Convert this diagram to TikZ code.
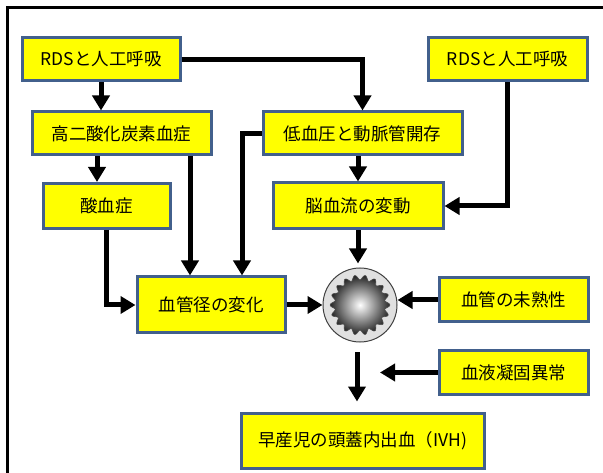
\documentclass[tikz,border=0pt]{standalone}
\usepackage{fontspec}
\setmainfont{Noto Sans CJK JP}
\usepackage{xcolor}
\usetikzlibrary{arrows.meta}

\definecolor{boxline}{RGB}{66,96,140}
\definecolor{boxfill}{RGB}{255,255,0}

\tikzset{
  box/.style={draw=boxline,fill=boxfill,line width=3pt,inner sep=0pt,
    minimum height=43pt,font=\fontsize{17.5}{20}\selectfont},
  link/.style={line width=5pt,-{Triangle[length=15pt,width=17pt]}},
}

\begin{document}
\begin{tikzpicture}[x=1pt,y=-1pt]
  \useasboundingbox (0,0) rectangle (603,473);
  % outer frame, only the left and top edges are inside the page
  \draw[line width=3pt] (7.5,490) -- (7.5,7.5) -- (620,7.5);

  \node[box,minimum width=158pt] (rdsa)  at (101,59.5)    {RDSと人工呼吸};
  \node[box,minimum width=159pt] (rdsb)  at (507.5,59.5)  {RDSと人工呼吸};
  \node[box,minimum width=179pt] (hyper) at (121.5,133.5) {高二酸化炭素血症};
  \node[box,minimum width=199pt] (lowbp) at (362.5,133.5) {低血圧と動脈管開存};
  \node[box,minimum width=127pt,minimum height=45pt] (acid) at (106.5,206) {酸血症};
  \node[box,minimum width=170pt,minimum height=46pt] (cbf)  at (358,206)   {脳血流の変動};
  \node[box,minimum width=148pt,minimum height=56pt] (diam) at (211,305)   {血管径の変化};
  \node[box,minimum width=149pt,minimum height=44pt] (immat) at (513.5,300) {血管の未熟性};
  \node[box,minimum width=149pt,minimum height=43pt] (clot)  at (513.5,372.5) {血液凝固異常};
  \node[box,minimum width=243pt,minimum height=55pt] (ivh)   at (362.5,440.5) {早産児の頭蓋内出血（IVH)};

  % the vessel in cross section
  \node[circle,minimum size=74pt,inner sep=0pt,draw=black!75,line width=1pt,
    fill=black!12] (vessel) at (360,305) {};
  \shade[inner color=white,outer color=black!85,draw=black!70,line width=0.6pt]
    plot[smooth cycle,domain=0:358,samples=180]
    ({360+(27.5+2.4*cos(18*\x))*cos(\x)},{305+(27.5+2.4*cos(18*\x))*sin(\x)});

  % x positions of the vertical links
  \coordinate (xa) at (97,0);
  \coordinate (xb) at (190,0);
  \coordinate (xc) at (242,0);
  \coordinate (xd) at (357,0);
  \coordinate (clotend) at (380,372.5);

  \draw[link] (rdsa.south) -- (rdsa.south |- hyper.north);
  \draw[link] (rdsa.east) -| (lowbp.north);
  \draw[link] (hyper.south -| xa) -- (acid.north -| xa);
  \draw[link] (hyper.south -| xb) -- (diam.north -| xb);
  \draw[link] (lowbp.west) -| (diam.north -| xc);
  \draw[link] (acid.south) |- (diam.west);
  \draw[link] (lowbp.south -| cbf.north) -- (cbf.north);
  \draw[link] (rdsb.south) |- (cbf.east);
  \draw[link,shorten >=4pt] (cbf.south) -- (cbf.south |- vessel.north);
  \draw[link] (diam.east) -- (vessel.west);
  \draw[link] (immat.west) -- (immat.west -| vessel.east);
  \draw[link,shorten <=10pt,shorten >=10pt] (vessel.south -| xd) -- (ivh.north -| xd);
  \draw[link] (clot.west) -- (clotend);
\end{tikzpicture}
\end{document}
